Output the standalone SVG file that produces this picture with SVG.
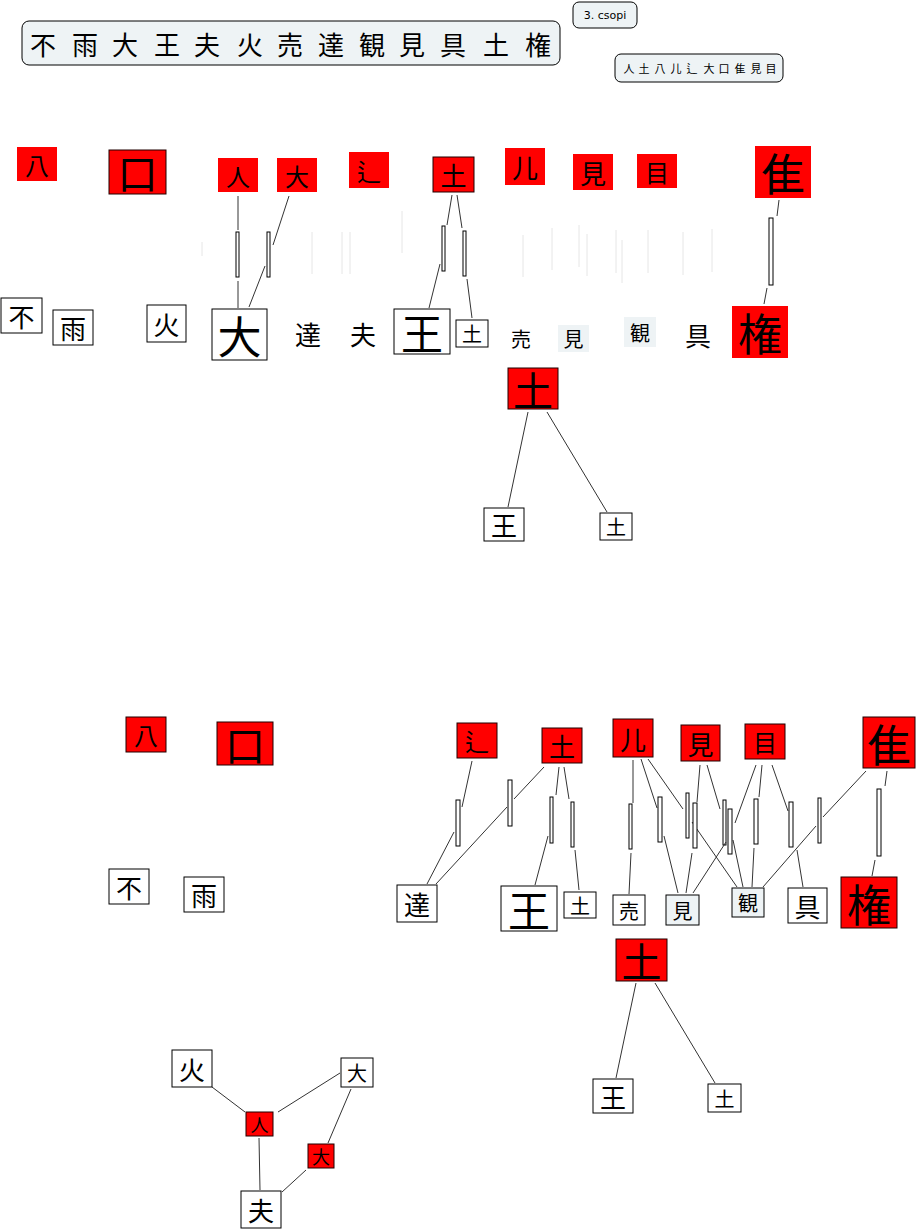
<svg xmlns="http://www.w3.org/2000/svg" width="921" height="1230" viewBox="0 0 921 1230">
<style>
.t{font-family:"Noto Sans CJK JP","Noto Sans CJK SC",sans-serif;fill:#000;text-anchor:middle;dominant-baseline:central}
.r{fill:#ff0000}
.rb{fill:#ff0000;stroke:#200000;stroke-width:1}
.w{fill:#fff;stroke:#000;stroke-width:1}
.l{fill:#eef3f5}
.lb{fill:#eef3f5;stroke:#000;stroke-width:1}
.hdr{fill:#eef3f5;stroke:#000;stroke-width:1}
.ln{stroke:#333;stroke-width:1;fill:none}
.bar{fill:#fff;stroke:#000;stroke-width:1}
.faint{stroke:#e6e6e6;stroke-width:1}
.s{font-size:20px}.m{font-size:26px}.b{font-size:42px}.xl{font-size:44px}
</style>
<rect width="921" height="1230" fill="#fff"/>
<g id="title">
<rect class="hdr" x="22" y="21" width="538" height="44" rx="7"/>
<text class="t" style="font-size:26px" x="43 85 125 167 207 250 290 331 372 412 453 496 538" y="43">不雨大王夫火売達観見具土権</text>
</g>
<g id="csopi">
<rect class="hdr" x="573" y="2" width="64" height="26" rx="6"/>
<text x="605" y="15" style="font-family:'DejaVu Sans',sans-serif;font-size:11px;text-anchor:middle;dominant-baseline:central">3. csopi</text>
</g>
<g id="radicals">
<rect class="hdr" x="615" y="54" width="168" height="28" rx="6"/>
<text class="t" style="font-size:11px" x="629 644 660 676 692 709 724 740 756 771" y="68">人土八儿辶大口隹見目</text>
</g>
<g id="faint-lines">
<line class="faint" x1="202" y1="242" x2="202" y2="256"/>
<line class="faint" x1="312" y1="232" x2="312" y2="274"/>
<line class="faint" x1="342" y1="232" x2="342" y2="274"/>
<line class="faint" x1="350" y1="232" x2="350" y2="274"/>
<line class="faint" x1="402" y1="211" x2="402" y2="253"/>
<line class="faint" x1="523" y1="235" x2="523" y2="277"/>
<line class="faint" x1="552" y1="228" x2="552" y2="270"/>
<line class="faint" x1="579" y1="225" x2="579" y2="267"/>
<line class="faint" x1="587" y1="234" x2="587" y2="276"/>
<line class="faint" x1="616" y1="230" x2="616" y2="273"/>
<line class="faint" x1="622" y1="240" x2="622" y2="283"/>
<line class="faint" x1="648" y1="230" x2="648" y2="273"/>
<line class="faint" x1="683" y1="232" x2="683" y2="275"/>
<line class="faint" x1="712" y1="229" x2="712" y2="272"/>
</g>
<g id="connectors">
<line class="ln" x1="238" y1="196" x2="238" y2="230"/><rect class="bar" x="236" y="232" width="3" height="45"/><line class="ln" x1="238" y1="281" x2="238" y2="308"/>
<line class="ln" x1="289" y1="196" x2="273" y2="245"/><rect class="bar" x="267" y="232" width="3" height="45"/><line class="ln" x1="265" y1="266" x2="249" y2="307"/>
<line class="ln" x1="452" y1="195" x2="447" y2="225"/><rect class="bar" x="442" y="226" width="3" height="45"/><line class="ln" x1="440" y1="264" x2="429" y2="308"/>
<line class="ln" x1="457" y1="195" x2="462" y2="228"/><rect class="bar" x="463" y="231" width="3" height="45"/><line class="ln" x1="467" y1="279" x2="472" y2="318"/>
<line class="ln" x1="779" y1="200" x2="777" y2="216"/><rect class="bar" x="769" y="218" width="4" height="67"/><line class="ln" x1="767" y1="288" x2="764" y2="304"/>
<line class="ln" x1="528" y1="412" x2="508" y2="507"/>
<line class="ln" x1="547" y1="412" x2="607" y2="512"/>
<line class="ln" x1="472" y1="761" x2="462" y2="807"/><rect class="bar" x="456" y="800" width="4" height="46"/><line class="ln" x1="454" y1="832" x2="427" y2="884"/>
<line class="ln" x1="544" y1="767" x2="514" y2="799"/><rect class="bar" x="508" y="780" width="4" height="46"/><line class="ln" x1="507" y1="807" x2="436" y2="884"/>
<line class="ln" x1="559" y1="767" x2="556" y2="795"/><rect class="bar" x="550" y="797" width="3" height="46"/><line class="ln" x1="548" y1="836" x2="535" y2="885"/>
<line class="ln" x1="564" y1="767" x2="569" y2="799"/><rect class="bar" x="571" y="802" width="3" height="45"/><line class="ln" x1="575" y1="850" x2="579" y2="890"/>
<line class="ln" x1="633" y1="760" x2="633" y2="803"/><rect class="bar" x="629" y="804" width="3" height="45"/><line class="ln" x1="631" y1="853" x2="629" y2="894"/>
<line class="ln" x1="641" y1="759" x2="657" y2="808"/><rect class="bar" x="658" y="797" width="4" height="45"/><line class="ln" x1="664" y1="836" x2="678" y2="893"/>
<line class="ln" x1="648" y1="759" x2="683" y2="809"/><rect class="bar" x="686" y="793" width="3" height="45"/><line class="ln" x1="692" y1="822" x2="737" y2="887"/>
<line class="ln" x1="700" y1="765" x2="697" y2="802"/><rect class="bar" x="693" y="803" width="4" height="45"/><line class="ln" x1="692" y1="853" x2="686" y2="893"/>
<line class="ln" x1="707" y1="765" x2="720" y2="809"/><rect class="bar" x="723" y="800" width="3" height="45"/><line class="ln" x1="733" y1="840" x2="743" y2="887"/>
<line class="ln" x1="756" y1="765" x2="735" y2="823"/><rect class="bar" x="728" y="809" width="4" height="45"/><line class="ln" x1="726" y1="842" x2="693" y2="893"/>
<line class="ln" x1="762" y1="765" x2="759" y2="797"/><rect class="bar" x="754" y="799" width="4" height="45"/><line class="ln" x1="754" y1="848" x2="752" y2="887"/>
<line class="ln" x1="772" y1="765" x2="788" y2="811"/><rect class="bar" x="789" y="802" width="4" height="45"/><line class="ln" x1="797" y1="850" x2="803" y2="887"/>
<line class="ln" x1="866" y1="771" x2="823" y2="817"/><rect class="bar" x="818" y="798" width="3" height="45"/><line class="ln" x1="816" y1="826" x2="763" y2="887"/>
<line class="ln" x1="887" y1="771" x2="885" y2="786"/><rect class="bar" x="877" y="789" width="4" height="67"/><line class="ln" x1="875" y1="860" x2="872" y2="876"/>
<line class="ln" x1="636" y1="983" x2="616" y2="1078"/>
<line class="ln" x1="655" y1="983" x2="715" y2="1083"/>
<line class="ln" x1="212" y1="1087" x2="245" y2="1112"/>
<line class="ln" x1="278" y1="1112" x2="340" y2="1073"/>
<line class="ln" x1="259" y1="1138" x2="260" y2="1190"/>
<line class="ln" x1="351" y1="1089" x2="328" y2="1143"/>
<line class="ln" x1="306" y1="1170" x2="282" y2="1192"/>
</g>
<g id="a-ba"><rect class="r" x="17" y="147" width="40" height="34"/><text class="t" style="font-size:24px" x="37" y="164">八</text></g>
<g id="a-kou"><rect class="rb" x="109" y="150" width="57" height="44"/><text class="t" style="font-size:40px" x="137.5" y="172">口</text></g>
<g id="a-hito"><rect class="r" x="218" y="158" width="40" height="34"/><text class="t" style="font-size:24px" x="238" y="175">人</text></g>
<g id="a-dai"><rect class="r" x="277" y="158" width="40" height="34"/><text class="t" style="font-size:24px" x="297" y="175">大</text></g>
<g id="a-shin"><rect class="r" x="349" y="152" width="40" height="36"/><text class="t" style="font-size:24px" x="369" y="170">辶</text></g>
<g id="a-do"><rect class="rb" x="433" y="157" width="41" height="35"/><text class="t" style="font-size:26px" x="453.5" y="174.5">土</text></g>
<g id="a-nin"><rect class="r" x="505" y="148" width="40" height="37"/><text class="t" style="font-size:26px" x="525" y="166.5">儿</text></g>
<g id="a-ken"><rect class="r" x="573" y="154" width="40" height="36"/><text class="t" style="font-size:26px" x="593" y="172">見</text></g>
<g id="a-me"><rect class="r" x="637" y="154" width="40" height="34"/><text class="t" style="font-size:24px" x="657" y="171">目</text></g>
<g id="a-sui"><rect class="r" x="755" y="146" width="56" height="52"/><text class="t xl" x="783" y="172">隹</text></g>
<g id="a-fu"><rect class="w" x="1" y="298" width="41" height="35"/><text class="t m" x="21.5" y="315.5">不</text></g>
<g id="a-ame"><rect class="w" x="53" y="310" width="40" height="35"/><text class="t m" x="73" y="327.5">雨</text></g>
<g id="a-hi"><rect class="w" x="147" y="305" width="39" height="37"/><text class="t m" x="166.5" y="323.5">火</text></g>
<g id="a-dai2"><rect class="w" x="212" y="309" width="55" height="51"/><text class="t xl" x="239.5" y="334.5">大</text></g>
<g id="a-tatsu"><text class="t m" x="308" y="333">達</text></g>
<g id="a-otto"><text class="t m" x="363" y="333">夫</text></g>
<g id="a-ou"><rect class="w" x="394" y="309" width="56" height="45"/><text class="t b" x="422" y="331.5">王</text></g>
<g id="a-tsuchi"><rect class="w" x="456" y="320" width="32" height="27"/><text class="t s" x="472" y="333.5">土</text></g>
<g id="a-uru"><text class="t s" x="521" y="338">売</text></g>
<g id="a-miru"><rect class="l" x="558" y="325" width="31" height="27"/><text class="t s" x="573.5" y="338.5">見</text></g>
<g id="a-kan"><rect class="l" x="624" y="317" width="32" height="30"/><text class="t s" x="640" y="332">観</text></g>
<g id="a-gu"><text class="t m" x="698" y="334">具</text></g>
<g id="a-ken2"><rect class="r" x="732" y="306" width="56" height="52"/><text class="t xl" x="760" y="332">権</text></g>
<g id="a-do2"><rect class="rb" x="508" y="368" width="50" height="41"/><text class="t" style="font-size:40px" x="533" y="388.5">土</text></g>
<g id="a-ou2"><rect class="w" x="484" y="508" width="40" height="33"/><text class="t m" x="504" y="524.5">王</text></g>
<g id="a-tsuchi2"><rect class="w" x="600" y="513" width="32" height="27"/><text class="t s" x="616" y="526.5">土</text></g>
<g id="b-ba"><rect class="rb" x="126" y="717" width="40" height="35"/><text class="t" style="font-size:24px" x="146" y="734.5">八</text></g>
<g id="b-kou"><rect class="rb" x="217" y="722" width="56" height="43"/><text class="t" style="font-size:40px" x="245" y="743.5">口</text></g>
<g id="b-fu"><rect class="w" x="109" y="869" width="40" height="35"/><text class="t m" x="129" y="886.5">不</text></g>
<g id="b-ame"><rect class="w" x="184" y="877" width="40" height="35"/><text class="t m" x="204" y="894.5">雨</text></g>
<g id="b-shin"><rect class="rb" x="457" y="723" width="40" height="35"/><text class="t" style="font-size:24px" x="477" y="740.5">辶</text></g>
<g id="b-do"><rect class="rb" x="542" y="728" width="40" height="35"/><text class="t m" x="562" y="745.5">土</text></g>
<g id="b-nin"><rect class="rb" x="613" y="719" width="40" height="38"/><text class="t m" x="633" y="738">儿</text></g>
<g id="b-ken"><rect class="rb" x="681" y="725" width="39" height="36"/><text class="t m" x="700.5" y="743">見</text></g>
<g id="b-me"><rect class="rb" x="745" y="724" width="40" height="35"/><text class="t" style="font-size:24px" x="765" y="741.5">目</text></g>
<g id="b-sui"><rect class="rb" x="863" y="717" width="52" height="51"/><text class="t xl" x="889" y="742.5">隹</text></g>
<g id="b-tatsu"><rect class="w" x="397" y="885" width="40" height="37"/><text class="t m" x="417" y="903.5">達</text></g>
<g id="b-ou"><rect class="w" x="501" y="886" width="56" height="45"/><text class="t b" x="529" y="908.5">王</text></g>
<g id="b-tsuchi"><rect class="w" x="564" y="892" width="32" height="26"/><text class="t s" x="580" y="905">土</text></g>
<g id="b-uru"><rect class="w" x="613" y="895" width="32" height="30"/><text class="t s" x="629" y="910">売</text></g>
<g id="b-miru"><rect class="lb" x="666" y="895" width="33" height="30"/><text class="t s" x="682.5" y="910">見</text></g>
<g id="b-kan"><rect class="lb" x="732" y="888" width="32" height="29"/><text class="t s" x="748" y="902.5">観</text></g>
<g id="b-gu"><rect class="w" x="788" y="888" width="39" height="35"/><text class="t m" x="807.5" y="905.5">具</text></g>
<g id="b-ken2"><rect class="rb" x="841" y="877" width="56" height="51"/><text class="t xl" x="869" y="902.5">権</text></g>
<g id="b-do2"><rect class="rb" x="616" y="939" width="51" height="42"/><text class="t" style="font-size:40px" x="641.5" y="960">土</text></g>
<g id="b-ou2"><rect class="w" x="593" y="1079" width="40" height="34"/><text class="t m" x="613" y="1096">王</text></g>
<g id="b-tsuchi2"><rect class="w" x="708" y="1084" width="33" height="28"/><text class="t s" x="724.5" y="1098">土</text></g>
<g id="c-hi"><rect class="w" x="172" y="1050" width="40" height="37"/><text class="t m" x="192" y="1068.5">火</text></g>
<g id="c-dai"><rect class="w" x="341" y="1058" width="32" height="29"/><text class="t s" x="357" y="1072.5">大</text></g>
<g id="c-hito"><rect class="rb" x="246" y="1112" width="27" height="24"/><text class="t" style="font-size:18px" x="259.5" y="1124">人</text></g>
<g id="c-dai-r"><rect class="rb" x="308" y="1144" width="26" height="24"/><text class="t" style="font-size:18px" x="321" y="1156">大</text></g>
<g id="c-otto"><rect class="w" x="241" y="1191" width="40" height="37"/><text class="t m" x="261" y="1209.5">夫</text></g>
</svg>
